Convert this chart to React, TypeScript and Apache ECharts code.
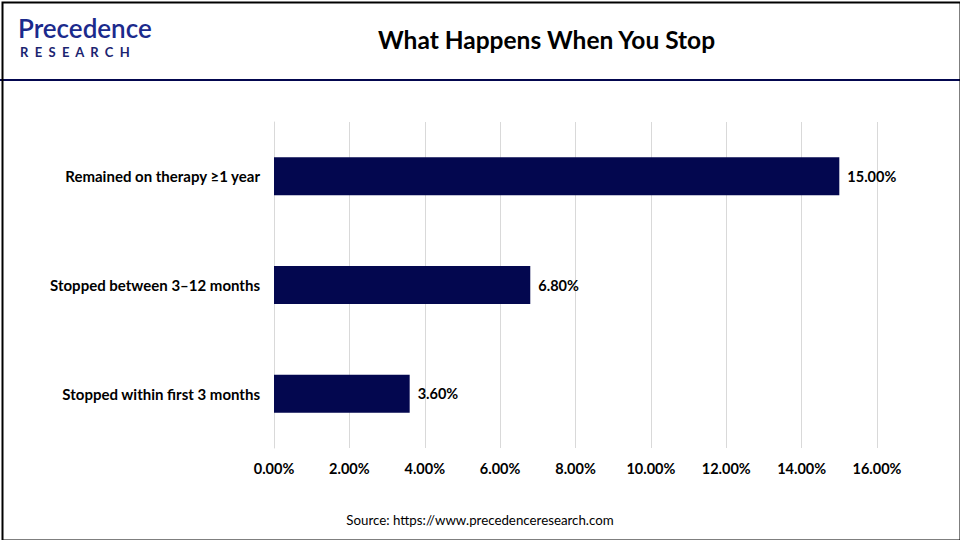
import { useEffect, useRef } from 'react';
import * as echarts from 'echarts';

const categories = [
  'Stopped within first 3 months',
  'Stopped between 3–12 months',
  'Remained on therapy ≥1 year',
];
const shares = [3.6, 6.8, 15.0];
const xTicks = { min: 0, max: 16, interval: 2 };

const navy = '#03074f';
const font = 'Lato, "Open Sans", sans-serif';

export default function App() {
  const chartRef = useRef<HTMLDivElement>(null);

  useEffect(() => {
    if (!chartRef.current) return;
    const chart = echarts.init(chartRef.current, null, { renderer: 'svg' });

    chart.setOption({
      animation: false,
      backgroundColor: '#fff',
      grid: { left: 274, right: 83, top: 122, bottom: 92 },
      xAxis: {
        type: 'value',
        min: xTicks.min,
        max: xTicks.max,
        interval: xTicks.interval,
        axisLine: { show: false },
        axisTick: { show: false },
        splitLine: { lineStyle: { color: '#d9d9d9', width: 1 } },
        axisLabel: {
          margin: 13,
          color: '#000',
          fontFamily: font,
          fontWeight: 'bold',
          fontSize: 14.5,
          formatter: (v: number) => v.toFixed(2) + '%',
        },
      },
      yAxis: {
        type: 'category',
        data: categories,
        axisLine: { show: true, lineStyle: { color: '#d9d9d9' } },
        axisTick: { show: false },
        axisLabel: {
          margin: 14,
          color: '#000',
          fontFamily: font,
          fontWeight: 'bold',
          fontSize: 15,
        },
      },
      series: [
        {
          type: 'bar',
          data: shares,
          barCategoryGap: '65%',
          itemStyle: { color: navy },
          label: {
            show: true,
            position: 'right',
            distance: 8,
            color: '#000',
            fontFamily: font,
            fontWeight: 'bold',
            fontSize: 14.5,
            formatter: (p: any) => Number(p.value).toFixed(2) + '%',
          },
        },
      ],
      graphic: [
        {
          type: 'rect',
          left: 0,
          top: 0,
          shape: { width: 958, height: 538 },
          style: { fill: 'none', stroke: '#000', lineWidth: 2 },
          z: 10,
        },
        {
          type: 'rect',
          left: 0,
          top: 79,
          shape: { width: 960, height: 2 },
          style: { fill: navy },
        },
        {
          type: 'text',
          left: 378,
          top: 27,
          style: {
            text: 'What Happens When You Stop',
            fill: '#000',
            font: 'bold 24.5px ' + font,
          },
        },
        {
          type: 'text',
          left: 18,
          top: 14,
          style: {
            text: 'Precedence',
            fill: '#1b2a8c',
            font: '600 26px ' + font,
            lineHeight: 28,
          },
        },
        {
          type: 'text',
          left: 20,
          top: 45,
          style: {
            text: 'R  E  S  E  A  R  C  H',
            fill: '#1b2470',
            font: 'bold 13px ' + font,
            lineHeight: 14,
          },
        },
        {
          type: 'text',
          left: 'center',
          top: 513,
          style: {
            text: 'Source: https://www.precedenceresearch.com',
            fill: '#000',
            font: '13.3px ' + font,
          },
        },
      ],
    });

    return () => {
      chart.dispose();
    };
  }, []);

  return (
    <div
      ref={chartRef}
      style={{ position: 'fixed', left: 0, top: 0, width: 960, height: 540 }}
    />
  );
}
